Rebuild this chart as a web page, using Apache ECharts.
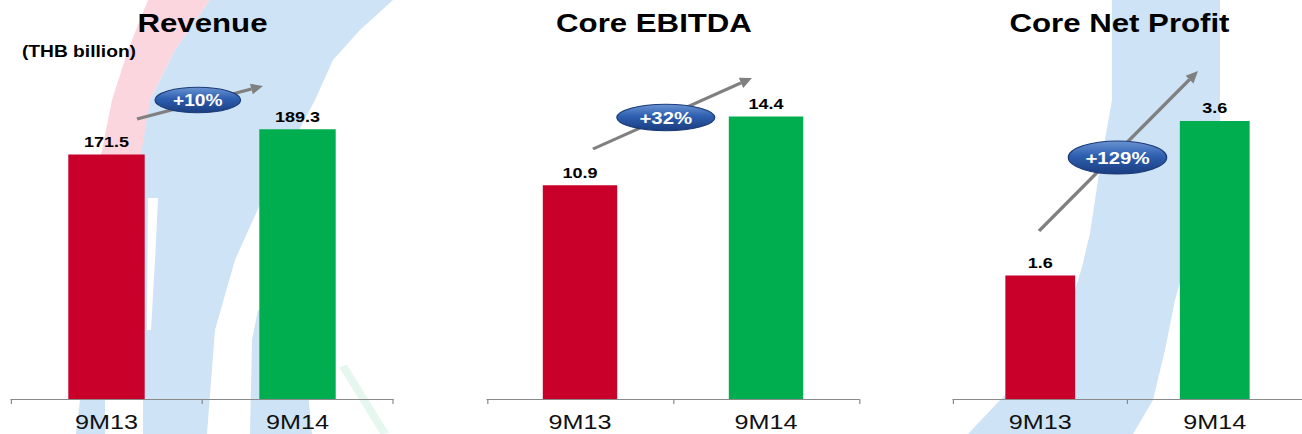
<!DOCTYPE html>
<html>
<head>
<meta charset="utf-8">
<script src="https://cdn.jsdelivr.net/npm/echarts@6.0.0/dist/echarts.min.js"></script>
<style>
  html, body { margin: 0; padding: 0; background: #fff; overflow: hidden; }
  /* the slide is horizontally stretched, so draw narrow and stretch */
  #main { width: 1085px; height: 434px; transform: scaleX(1.2); transform-origin: 0 0; }
</style>
</head>
<body>
<div id="main"></div>
<script>
// data
var categories = ['9M13', '9M14'];
var panelTitles = ['Revenue', 'Core EBITDA', 'Core Net Profit'];
var revenue = [171.5, 189.3];
var coreEbitda = [10.9, 14.4];
var coreNetProfit = [1.6, 3.6];
var growthLabels = ['+10%', '+32%', '+129%'];
var unitLabel = '(THB billion)';

(function () {
  var K = 1.2;               // horizontal stretch of the page
  var FONT = 'Liberation Sans, Arial, sans-serif';
  var barColors = ['#c8002a', '#00ae4f'];
  var seriesData = [revenue, coreEbitda, coreNetProfit];

  // panel layout in final page pixels
  var panels = [
    { left: 11, width: 382, top: 114, max: 200, titleX: 202.5 },
    { left: 487, width: 372, top: 104.7, max: 15, titleX: 654 },
    { left: 953, width: 349, top: 90, max: 4, titleX: 1119.5 }
  ];

  function sx(x) { return x / K; }

  var myChart = echarts.init(document.getElementById('main'), null, { renderer: 'svg' });

  var grids = [], xAxes = [], yAxes = [], series = [];
  panels.forEach(function (p, i) {
    grids.push({ left: sx(p.left), width: sx(p.width), top: p.top, bottom: 35, containLabel: false });
    xAxes.push({
      type: 'category', gridIndex: i, data: categories, z: 5,
      axisLine: { lineStyle: { color: '#8a8a8a', width: 1 } },
      axisTick: { show: true, length: 5, lineStyle: { color: '#8a8a8a' } },
      axisLabel: { color: '#111', fontSize: 21, fontFamily: FONT, margin: 12 }
    });
    yAxes.push({ type: 'value', gridIndex: i, min: 0, max: p.max, show: false, splitLine: { show: false } });
    series.push({
      name: panelTitles[i], type: 'bar', xAxisIndex: i, yAxisIndex: i,
      barWidth: '40%',
      data: seriesData[i],
      itemStyle: { color: function (d) { return barColors[d.dataIndex]; } },
      label: {
        show: true, position: 'top', distance: 5,
        color: '#000', fontSize: 15, fontWeight: 'bold', fontFamily: FONT,
        formatter: function (d) { return d.value.toFixed(1); }
      }
    });
  });

  // background swooshes (final pixel coords)
  var pink = '#fbd6df', blue = '#cfe3f6';
  var bg = [
    { c: pink, p: [[148,0],[128,50],[112,100],[100,160],[100,175],[145,175],[150,100],[175,50],[210,0]] },
    { c: blue, p: [[210,0],[175,50],[150,100],[140,160],[140,250],[143,340],[143,434],[207,434],[215,330],[235,260],[262,200],[315,100],[333,60],[360,30],[393,0]] },
    { c: blue, p: [[76,434],[80,400],[90,380],[105,380],[105,434]] },
    { c: blue, p: [[250,434],[252,340],[258,310],[300,310],[312,434]] },
    { c: '#ffffff', p: [[148,198],[158,198],[155,260],[151,330],[147,330]] },
    { c: blue, p: [[1112,0],[1112,100],[1100,167],[1090,233],[1082,267],[1072,300],[1058,333],[1035,367],[1000,400],[968,434],[1133,434],[1153,400],[1165,350],[1175,300],[1195,230],[1220,130],[1220,0]] }
  ];
  var graphics = [];
  bg.forEach(function (b) {
    graphics.push({
      type: 'polygon', z: 0, silent: true,
      shape: { points: b.p.map(function (q) { return [sx(q[0]), q[1]]; }) },
      style: { fill: b.c }
    });
  });
  graphics.push({
    type: 'line', z: 0, silent: true,
    shape: { x1: sx(343), y1: 366, x2: sx(385), y2: 434 },
    style: { stroke: '#e6f7f0', lineWidth: 7 }
  });

  // growth arrows and ovals (final pixel coords)
  var arrows = [
    { a: [137, 119], b: [263, 86], c: [197.8, 100], rx: 42.8, ry: 12.8, fs: 16 },
    { a: [593, 149], b: [752, 78], c: [665.8, 117.5], rx: 49, ry: 13.2, fs: 17 },
    { a: [1039, 231], b: [1198, 71], c: [1117.5, 157.5], rx: 49.2, ry: 16.5, fs: 17 }
  ];
  arrows.forEach(function (ar, i) {
    var dx = ar.b[0] - ar.a[0], dy = ar.b[1] - ar.a[1];
    var len = Math.sqrt(dx * dx + dy * dy), ux = dx / len, uy = dy / len;
    var hl = 12, hw = 5.5;
    var base = [ar.b[0] - ux * hl, ar.b[1] - uy * hl];
    graphics.push({
      type: 'line', z: 10, silent: true,
      shape: { x1: sx(ar.a[0]), y1: ar.a[1], x2: sx(base[0]), y2: base[1] },
      style: { stroke: '#808080', lineWidth: 3 }
    });
    graphics.push({
      type: 'polygon', z: 10, silent: true,
      shape: { points: [
        [sx(ar.b[0]), ar.b[1]],
        [sx(base[0] - uy * hw), base[1] + ux * hw],
        [sx(base[0] + uy * hw), base[1] - ux * hw]
      ] },
      style: { fill: '#808080' }
    });
    graphics.push({
      type: 'ellipse', z: 11, silent: true,
      shape: { cx: sx(ar.c[0]), cy: ar.c[1], rx: sx(ar.rx), ry: ar.ry },
      style: {
        fill: new echarts.graphic.LinearGradient(0, 0, 0, 1, [
          { offset: 0, color: '#6a93d2' },
          { offset: 0.45, color: '#2e5fb0' },
          { offset: 1, color: '#1a3d80' }
        ]),
        stroke: '#1c3c78', lineWidth: 1
      }
    });
    graphics.push({
      type: 'text', z: 12, silent: true,
      style: {
        text: growthLabels[i], x: sx(ar.c[0]), y: ar.c[1] + 1,
        align: 'center', verticalAlign: 'middle',
        fill: '#ffffff', fontSize: ar.fs, fontWeight: 'bold', fontFamily: FONT
      }
    });
  });

  // panel titles and unit
  panels.forEach(function (p, i) {
    graphics.push({
      type: 'text', z: 12, silent: true,
      style: {
        text: panelTitles[i], x: sx(p.titleX), y: 23,
        align: 'center', verticalAlign: 'middle',
        fill: '#000', fontSize: 26, fontWeight: 'bold', fontFamily: FONT
      }
    });
  });
  graphics.push({
    type: 'text', z: 12, silent: true,
    style: {
      text: unitLabel, x: sx(22), y: 52, align: 'left', verticalAlign: 'middle',
      fill: '#000', fontSize: 16, fontWeight: 'bold', fontFamily: FONT
    }
  });

  var option = {
    backgroundColor: '#ffffff',
    animation: false,
    grid: grids,
    xAxis: xAxes,
    yAxis: yAxes,
    series: series,
    graphic: graphics
  };
  myChart.setOption(option);
  window.addEventListener('resize', myChart.resize);
})();
</script>
</body>
</html>
